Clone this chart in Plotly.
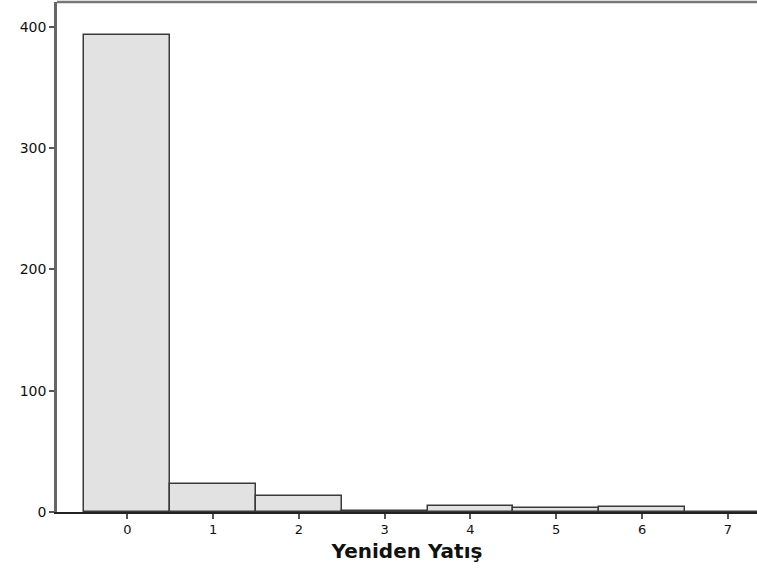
import plotly.graph_objects as go

categories = [0, 1, 2, 3, 4, 5, 6, 7]
counts = [393, 23, 13, 1, 5, 3, 4, 0]
y_ticks = [0, 100, 200, 300, 400]
x_title = "Yeniden Yatış"

fig = go.Figure(go.Bar(
    x=categories, y=counts, width=1,
    marker=dict(color="#e2e2e2", line=dict(color="#3a3a3a", width=1.5)),
))
fig.update_layout(
    template="none",
    width=757, height=571,
    margin=dict(l=57, r=0, t=2, b=59, autoexpand=False),
    paper_bgcolor="white", plot_bgcolor="white",
    showlegend=False, bargap=0,
    font=dict(family="DejaVu Sans", size=14, color="#111"),
)
fig.update_xaxes(
    automargin=False,
    range=[-0.82, 7.34], tickvals=categories, ticks="outside", ticklen=5,
    tickwidth=2, tickcolor="#555", showgrid=False, zeroline=False,
    showline=True, linecolor="#222", linewidth=1.5,
    tickfont=dict(size=13),
    title=dict(text=x_title, font=dict(size=20, family="DejaVu Sans", color="#111", weight="bold"), standoff=8),
)
fig.update_yaxes(
    automargin=False,
    range=[0, 420.5], tickvals=y_ticks, ticks="outside", ticklen=5,
    tickwidth=2, tickcolor="#555", showgrid=False, zeroline=False,
    showline=True, linecolor="#666", linewidth=2.5, mirror=False,
    tickfont=dict(size=14),
)
fig.add_shape(type="line", xref="paper", yref="paper", x0=0, x1=1, y0=1, y1=1,
              line=dict(color="#777", width=2.5))
fig.write_html("out.html", config={"displayModeBar": False},
               post_script="document.body.style.margin='0';document.body.style.overflow='hidden';")
